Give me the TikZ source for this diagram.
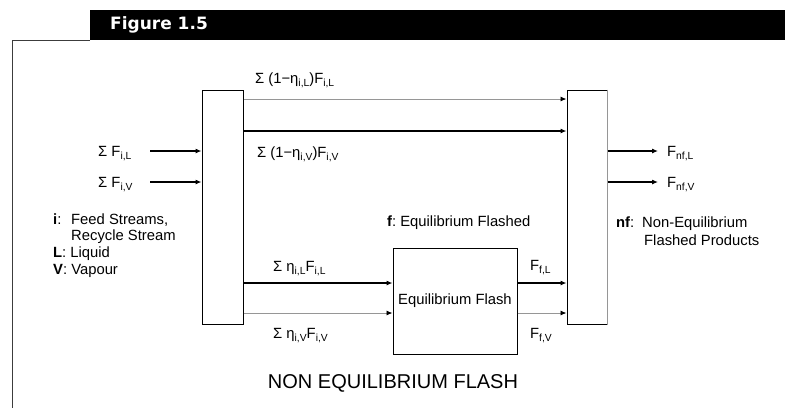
\documentclass[tikz,border=0pt]{standalone}
\usepackage{fontspec}
\setmainfont{Liberation Sans}
\newfontfamily\titlefont{DejaVu Sans}
\usetikzlibrary{arrows.meta}
\definecolor{lgray}{RGB}{150,150,150}
\definecolor{fgray}{RGB}{60,60,60}
\newcommand\sbs[1]{\raisebox{-3.5pt}{\fontsize{10.3}{11}\selectfont #1}}
\begin{document}
\begin{tikzpicture}[x=1pt,y=-1pt,
  lbl/.style={font=\fontsize{14.8}{17}\selectfont, inner sep=0pt, anchor=base west},
  boxst/.style={draw, line width=1pt, inner sep=0pt},
  flow/.style={line width=1.1pt, -{Latex[length=6pt,width=5pt,color=black]}},
  lflow/.style={flow, draw=lgray, line width=0.9pt}]
\useasboundingbox (0,0) rectangle (785,408);
\fill[white] (0,0) rectangle (785,408);
% title bar and frame
\fill[black] (90,10) rectangle (785,40);
\node[anchor=base west, inner sep=0pt, text=white, font=\titlefont\bfseries\fontsize{17}{17}\selectfont] (title) at (110,29) {Figure 1.5};
\draw[fgray, line width=1pt] (90,40) -- (12,40) -- (12,408);
% boxes
\node[boxst, minimum width=41pt, minimum height=234pt] (lbox) at (222.5,207) {};
\node[boxst, minimum width=40pt, minimum height=234pt] (rbox) at (587,207) {};
\draw[lgray, line width=1pt] (rbox.north east) -- (rbox.south east);
\node[boxst, minimum width=124pt, minimum height=106pt, font=\fontsize{14.8}{17}\selectfont] (eq) at (455,301) {Equilibrium Flash};
% connectors
\draw[lflow] (lbox.east |- 0,99) -- (rbox.west |- 0,99);
\draw[flow] (lbox.east |- 0,131) -- (rbox.west |- 0,131);
\draw[flow] (lbox.east |- 0,283) -- (eq.west |- 0,283);
\draw[lflow] (lbox.east |- 0,313) -- (eq.west |- 0,313);
\draw[flow] (eq.east |- 0,283) -- (rbox.west |- 0,283);
\draw[lflow] (eq.east |- 0,313) -- (rbox.west |- 0,313);
\coordinate (inL) at (150,151);
\coordinate (inV) at (150,182);
\coordinate (outL) at (658,151);
\coordinate (outV) at (658,182);
\draw[flow] (inL) -- (lbox.west |- inL);
\draw[flow] (inV) -- (lbox.west |- inV);
\draw[flow] (rbox.east |- outL) -- (outL);
\draw[flow] (rbox.east |- outV) -- (outV);
% labels
\node[lbl] (t1) at (255,83) {Σ (1−η\sbs{i,L})F\sbs{i,L}};
\node[lbl] (t2) at (257,157) {Σ (1−η\sbs{i,V})F\sbs{i,V}};
\node[lbl] (t3) at (98,156) {Σ F\sbs{i,L}};
\node[lbl] (t4) at (98,187) {Σ F\sbs{i,V}};
\node[lbl] (t5) at (667,156) {F\sbs{nf,L}};
\node[lbl] (t6) at (667,187) {F\sbs{nf,V}};
\node[lbl] (t7) at (273,271) {Σ η\sbs{i,L}F\sbs{i,L}};
\node[lbl] (t8) at (273,338) {Σ η\sbs{i,V}F\sbs{i,V}};
\node[lbl] (t9) at (530,270) {F\sbs{f,L}};
\node[lbl] (t10) at (530,338) {F\sbs{f,V}};
% legends
\node[lbl] (g1) at (53,224) {\makebox[18pt][l]{\textbf{i}:}Feed Streams,};
\node[lbl] (g2) at (71,240) {Recycle Stream};
\node[lbl] (g3) at (53,257) {\textbf{L}: Liquid};
\node[lbl] (g4) at (53,274) {\textbf{V}: Vapour};
\node[lbl] (g5) at (387,226) {\textbf{f}:\ Equilibrium Flashed};
\node[lbl] (g6) at (616,227) {\makebox[26pt][l]{\textbf{nf}:}Non-Equilibrium};
\node[lbl] (g7) at (644,245) {Flashed Products};
\node[anchor=base, inner sep=0pt, font=\fontsize{20}{22}\selectfont] (cap) at (393,388) {NON EQUILIBRIUM FLASH};
\end{tikzpicture}
\end{document}
